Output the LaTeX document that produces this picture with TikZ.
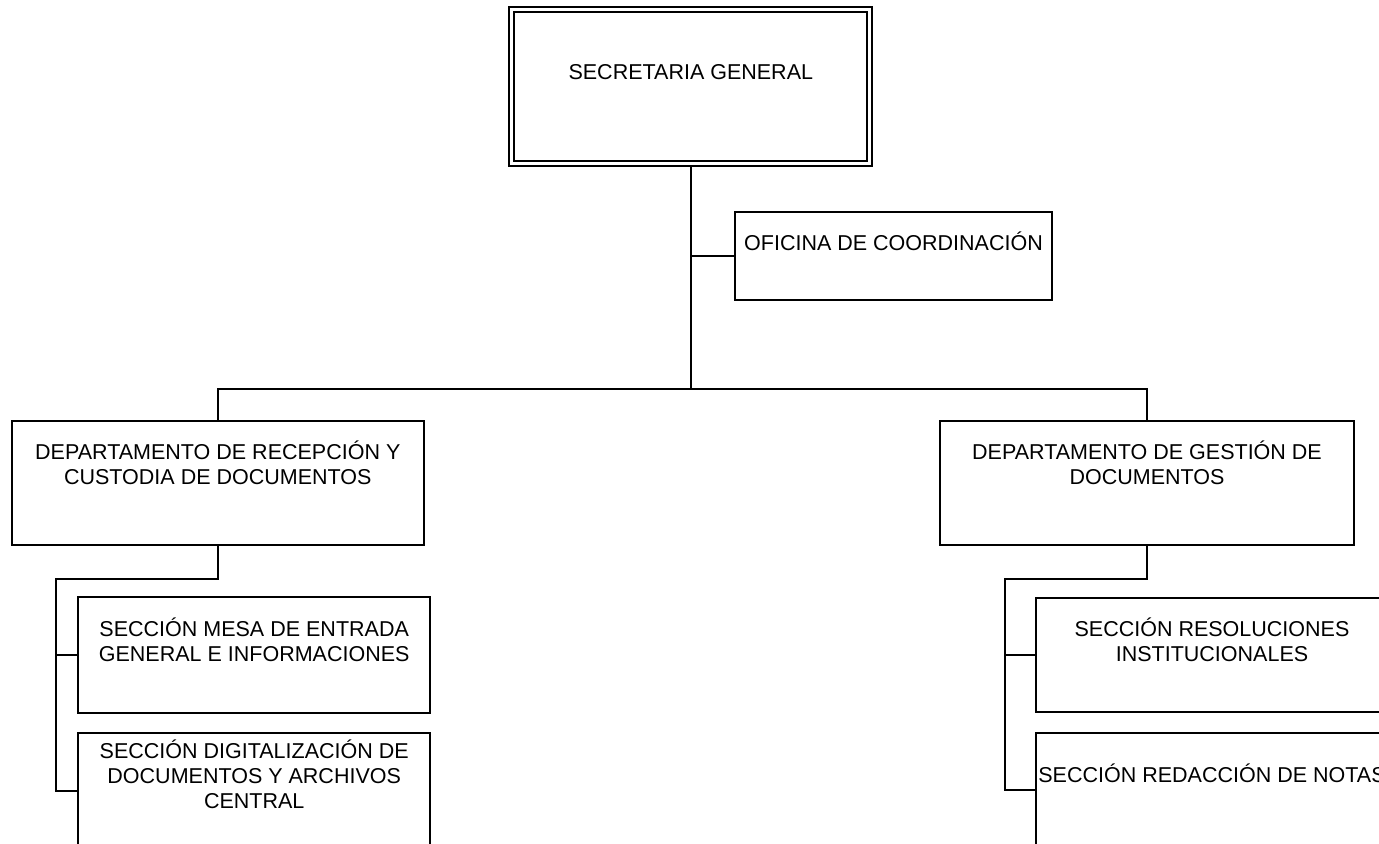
\documentclass[tikz,border=0pt]{standalone}
\usepackage{fontspec}
\setmainfont{Liberation Sans}
\newcommand\stt{\rule[-0.25em]{0pt}{1em}}
\newcommand\lblfont{\fontsize{10.75pt}{12.4pt}\selectfont\lineskiplimit=-100pt\relax}
\begin{document}
\begin{tikzpicture}[x=0.5pt,y=-0.5pt,
  box/.style={draw,line width=1pt,rectangle,inner sep=0pt,outer sep=0pt},
  lbl/.style={inner sep=0pt,align=center,font=\lblfont},
  link/.style={line width=1pt}]
\useasboundingbox (0,0) rectangle (1379,844);
\clip (0,0) rectangle (1379,844);

% boxes
\node[box,double,double distance=1.5pt,outer sep=1.25pt,minimum width=179pt,minimum height=76.8pt] (sg) at (690.8,86.7) {};
\node[lbl] (sgt) at (690.8,74) {SECRETARIA GENERAL\stt};

\node[box,minimum width=158.5pt,minimum height=44pt] (of) at (893.5,256) {};
\node[lbl] (oft) at (893.5,244) {OFICINA DE COORDINACIÓN\stt};

\node[box,minimum width=206.2pt,minimum height=62.2pt] (d1) at (217.8,482.8) {};
\node[lbl] (d1t) at (217.8,465.5) {DEPARTAMENTO DE RECEPCIÓN Y\stt\\CUSTODIA DE DOCUMENTOS\stt};

\node[box,minimum width=207pt,minimum height=62.2pt] (d2) at (1147,482.8) {};
\node[lbl] (d2t) at (1147,465.5) {DEPARTAMENTO DE GESTIÓN DE\stt\\DOCUMENTOS\stt};

\node[box,minimum width=175.85pt,minimum height=58pt] (s1) at (254.2,654.7) {};
\node[lbl] (s1t) at (254.2,642.5) {SECCIÓN MESA DE ENTRADA\stt\\GENERAL E INFORMACIONES\stt};

\node[box,minimum width=175.85pt,minimum height=58pt] (s2) at (254.2,790.7) {};
\node[lbl] (s2t) at (254.2,777) {SECCIÓN DIGITALIZACIÓN DE\stt\\DOCUMENTOS Y ARCHIVOS\stt\\CENTRAL\stt};

\node[box,minimum width=176pt,minimum height=57pt] (s3) at (1212,655) {};
\node[lbl] (s3t) at (1212,642.5) {SECCIÓN RESOLUCIONES\stt\\INSTITUCIONALES\stt};

\node[box,minimum width=176pt,minimum height=57pt] (s4) at (1212,790) {};
\node[lbl] (s4t) at (1212,776) {SECCIÓN REDACCIÓN DE NOTAS\stt};

% junction points
\coordinate (bus) at (690.8,389);
\coordinate (lj) at (56,579);
\coordinate (rj) at (1005,579);

% connectors
\draw[link] (sg.south) -- (bus);
\draw[link] (sg.south |- of.west) -- (of.west);
\draw[link] (d1.north) -- (d1.north |- bus) -- (d2.north |- bus) -- (d2.north);
\draw[link] (d1.south) -- (d1.south |- lj) -- (lj) -- (lj |- s2.west) -- (s2.west);
\draw[link] (lj |- s1.west) -- (s1.west);
\draw[link] (d2.south) -- (d2.south |- rj) -- (rj) -- (rj |- s4.west) -- (s4.west);
\draw[link] (rj |- s3.west) -- (s3.west);
\end{tikzpicture}
\end{document}
